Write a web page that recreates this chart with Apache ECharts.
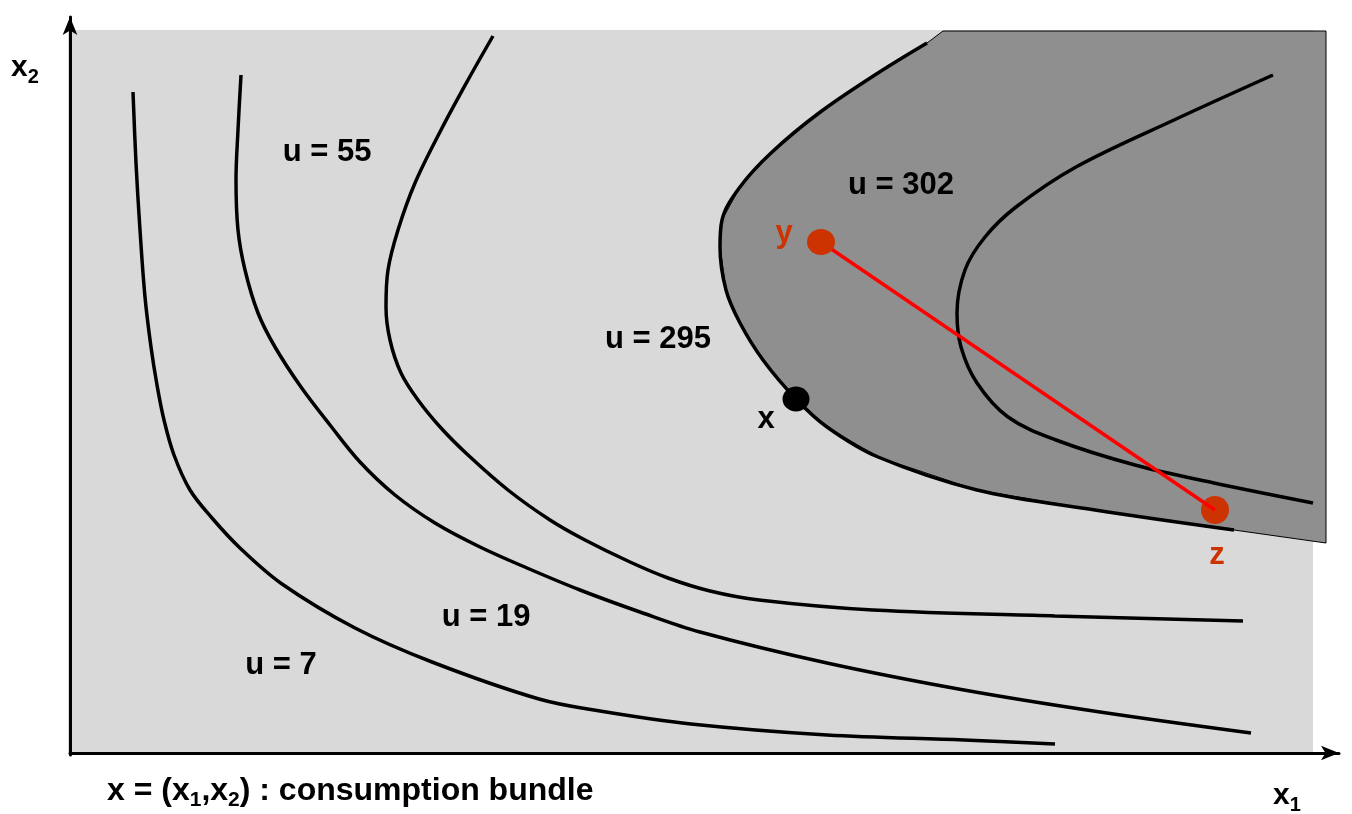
<!DOCTYPE html>
<html>
<head>
<meta charset="utf-8">
<script src="https://cdn.jsdelivr.net/npm/echarts@6/dist/echarts.min.js"></script>
<style>html,body{margin:0;padding:0;background:#fff}#c{width:1352px;height:814px}</style>
</head>
<body>
<div id="c"></div>
<script>
// Indifference curves (x1, x2)
const CURVE_U7 = [[65,661],[68,590],[72,523],[77,456],[83,406],[89,368],[96,333],[106,298],[122,263],[144,235],[172,205],[214,169],[287,125],[364,91],[471,54],[532,42],[623,29],[759,18],[896,13],[987,9]];
const CURVE_U19 = [[173,678],[170,623],[168,573],[170,523],[177,483],[190,440],[207,406],[233,366],[262,328],[292,291],[327,258],[367,230],[412,206],[459,185],[512,163],[572,141],[632,121],[759,90],[896,63],[1032,41],[1183,20]];
const CURVE_U55 = [[425,717],[400,673],[373,623],[347,570],[330,523],[320,483],[318,446],[322,413],[333,380],[350,353],[373,325],[400,298],[440,263],[482,233],[517,213],[562,191],[600,175],[642,162],[691,153],[805,143],[987,137],[1175,132]];
const CURVE_U295 = [[859,710],[810,680],[751,640],[703,600],[672,566],[654,533],[652,506],[658,463],[672,430],[695,393],[728,354],[759,326],[810,296],[909,263],[1027,243],[1166,223]];
const CURVE_U302 = [[1205,678],[1106,633],[1008,586],[948,546],[917,516],[897,483],[889,440],[893,406],[909,370],[940,336],[988,313],[1067,288],[1146,270],[1245,250]];
// Upper contour set corners (beyond the u = 295 curve)
const REGION_CORNERS = [[1258,210],[1258,722],[875,722]];
// Consumption space box
const SPACE_BOX = [[0,0],[1245,723]];
// Bundles
const BUNDLE_X = [728,354];
const BUNDLE_Y = [753,511];
const BUNDLE_Z = [1147,243];
// Labels
const CURVE_LABELS = [
  {name:'u = 55', value:[259,601]},
  {name:'u = 302', value:[833,568]},
  {name:'u = 295', value:[590,414]},
  {name:'u = 19', value:[418,136]},
  {name:'u = 7', value:[213,88]}
];
const POINT_LABELS = [
  {name:'x', value:[698,334], color:'#000'},
  {name:'y', value:[716,520], color:'#cc3300'},
  {name:'z', value:[1149,198], color:'#cc3300'}
];

const FONT = '"Liberation Sans", Arial, sans-serif';
const chart = echarts.init(document.getElementById('c'));

function curve(data){
  return {type:'line', data:data, smooth:0.35, symbol:'none', z:3,
    lineStyle:{color:'#000', width:3.5}, silent:true};
}

const option = {
  animation:false,
  grid:{left:70, right:13, top:17, bottom:59},
  xAxis:{type:'value', min:2, max:1271, z:10,
    axisLine:{show:true, lineStyle:{color:'#000', width:3}, symbol:['none','arrow'], symbolSize:[11,18]},
    axisTick:{show:false}, axisLabel:{show:false}, splitLine:{show:false}},
  yAxis:{type:'value', min:-2, max:736, z:10,
    axisLine:{show:true, lineStyle:{color:'#000', width:3}, symbol:['none','arrow'], symbolSize:[11,18]},
    axisTick:{show:false}, axisLabel:{show:false}, splitLine:{show:false}},
  series:[
    {type:'custom', z:1, silent:true, data:[0],
      renderItem:function(params, api){
        const a = api.coord(SPACE_BOX[0]), b = api.coord(SPACE_BOX[1]);
        return {type:'rect', shape:{x:a[0], y:b[1], width:b[0]-a[0], height:a[1]-b[1]}, style:{fill:'#d9d9d9'}};
      }},
    {type:'custom', z:2, silent:true, data:[0],
      renderItem:function(params, api){
        const pts = CURVE_U295.concat(REGION_CORNERS).map(p=>api.coord(p));
        return {type:'polygon', shape:{points:pts}, style:{fill:'#8f8f8f', stroke:'#000', lineWidth:1}};
      }},
    curve(CURVE_U7), curve(CURVE_U19), curve(CURVE_U55), curve(CURVE_U295), curve(CURVE_U302),
    {type:'scatter', z:4, data:[BUNDLE_Z], symbolSize:28, itemStyle:{color:'#cc3300', opacity:1}, silent:true},
    {type:'line', z:5, data:[BUNDLE_Y, BUNDLE_Z], symbol:'none', lineStyle:{color:'#ff0000', width:3.5}, silent:true},
    {type:'scatter', z:6, data:[BUNDLE_Y], symbolSize:[28,26], itemStyle:{color:'#cc3300', opacity:1}, silent:true},
    {type:'scatter', z:6, data:[BUNDLE_X], symbolSize:[27,25], itemStyle:{color:'#000', opacity:1}, silent:true},
    {type:'scatter', z:7, symbolSize:0, silent:true, clip:false, data:CURVE_LABELS, itemStyle:{opacity:1},
      label:{show:true, position:'inside', formatter:'{b}', color:'#000', fontFamily:FONT, fontWeight:'bold', fontSize:31}},
    {type:'scatter', z:7, symbolSize:0, silent:true, clip:false, itemStyle:{opacity:1},
      data:POINT_LABELS.map(p=>({name:p.name, value:p.value, label:{color:p.color}})),
      label:{show:true, position:'inside', formatter:'{b}', fontFamily:FONT, fontWeight:'bold', fontSize:31}}
  ],
  graphic:[
    {type:'text', left:11, top:53, style:{text:'{m|x}{s|2}', rich:{
      m:{fontFamily:FONT, fontWeight:'bold', fontSize:30, color:'#000'},
      s:{fontFamily:FONT, fontWeight:'bold', fontSize:20, color:'#000', padding:[18,0,0,0]}}}},
    {type:'text', left:1273, top:781, style:{text:'{m|x}{s|1}', rich:{
      m:{fontFamily:FONT, fontWeight:'bold', fontSize:30, color:'#000'},
      s:{fontFamily:FONT, fontWeight:'bold', fontSize:20, color:'#000', padding:[18,0,0,0]}}}},
    {type:'text', left:107, top:775, style:{text:'{m|x = (x}{s|1}{m|,x}{s|2}{m|) : consumption bundle}', rich:{
      m:{fontFamily:FONT, fontWeight:'bold', fontSize:32, color:'#000'},
      s:{fontFamily:FONT, fontWeight:'bold', fontSize:21, color:'#000', padding:[18,0,0,0]}}}}
  ]
};
chart.setOption(option);
</script>
</body>
</html>
